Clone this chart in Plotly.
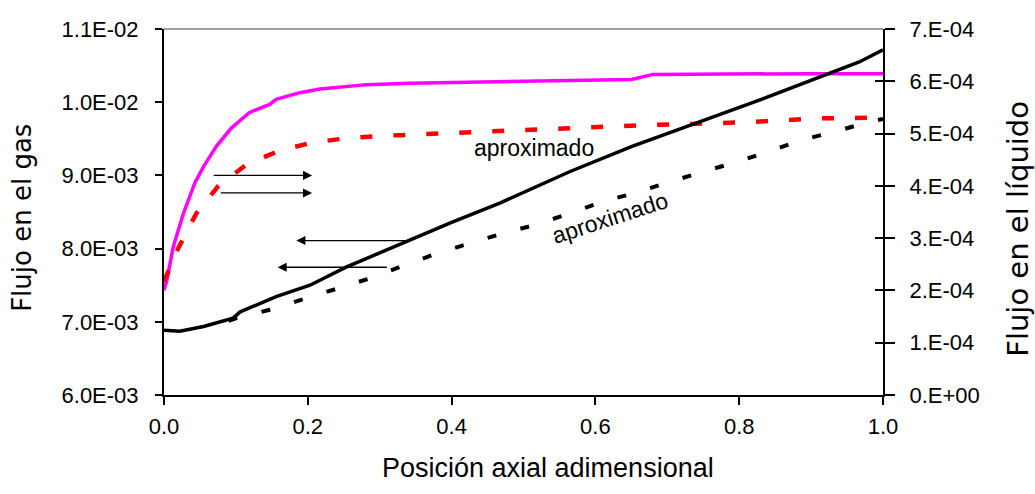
import plotly.graph_objects as go

# Gas-phase flow (left axis)
x_gas = [0.0, 0.004, 0.013, 0.027, 0.043, 0.055, 0.073, 0.094, 0.119, 0.147, 0.156,
         0.189, 0.217, 0.282, 0.342, 0.45, 0.55, 0.65, 0.68, 0.8, 0.9, 1.0]
gas_flow = [7.43e-3, 7.57e-3, 8.03e-3, 8.48e-3, 8.90e-3, 9.12e-3, 9.40e-3, 9.65e-3,
            9.86e-3, 9.97e-3, 10.04e-3, 10.13e-3, 10.18e-3, 10.24e-3, 10.26e-3,
            10.28e-3, 10.30e-3, 10.31e-3, 10.38e-3, 10.39e-3, 10.39e-3, 10.39e-3]

x_gas_approx = [0.0, 0.02, 0.045, 0.075, 0.115, 0.161, 0.207, 0.256, 0.302, 0.4,
                0.492, 0.585, 0.677, 0.726, 0.818, 0.913, 0.96, 1.0]
gas_flow_approx = [7.55e-3, 8.01e-3, 8.48e-3, 8.85e-3, 9.15e-3, 9.34e-3, 9.45e-3,
                   9.51e-3, 9.54e-3, 9.58e-3, 9.62e-3, 9.65e-3, 9.69e-3, 9.70e-3,
                   9.73e-3, 9.78e-3, 9.78e-3, 9.79e-3]

# Liquid-phase flow (right axis)
x_liq = [0.0, 0.022, 0.055, 0.096, 0.106, 0.156, 0.203, 0.254, 0.309, 0.4, 0.467,
         0.564, 0.65, 0.707, 0.828, 0.967, 1.0]
liq_flow = [1.24e-4, 1.22e-4, 1.31e-4, 1.47e-4, 1.59e-4, 1.88e-4, 2.10e-4, 2.45e-4,
            2.77e-4, 3.30e-4, 3.67e-4, 4.27e-4, 4.75e-4, 5.03e-4, 5.64e-4, 6.37e-4,
            6.60e-4]

x_liq_approx = [0.09, 0.101, 0.147, 0.193, 0.24, 0.286, 0.328, 0.374, 0.42, 0.471,
                0.515, 0.564, 0.61, 0.654, 0.7, 0.749, 0.798, 0.842, 0.888, 0.937,
                0.982, 1.0]
liq_flow_approx = [1.42e-4, 1.47e-4, 1.63e-4, 1.83e-4, 2.03e-4, 2.23e-4, 2.45e-4,
                   2.68e-4, 2.88e-4, 3.09e-4, 3.25e-4, 3.47e-4, 3.70e-4, 3.86e-4,
                   4.06e-4, 4.27e-4, 4.46e-4, 4.67e-4, 4.88e-4, 5.05e-4, 5.23e-4,
                   5.28e-4]

# Tick labels
x_ticks = [0.0, 0.2, 0.4, 0.6, 0.8, 1.0]
x_tick_text = ["0.0", "0.2", "0.4", "0.6", "0.8", "1.0"]
gas_ticks = [6.0e-3, 7.0e-3, 8.0e-3, 9.0e-3, 1.0e-2, 1.1e-2]
gas_tick_text = ["6.0E-03", "7.0E-03", "8.0E-03", "9.0E-03", "1.0E-02", "1.1E-02"]
liq_ticks = [0, 1e-4, 2e-4, 3e-4, 4e-4, 5e-4, 6e-4, 7e-4]
liq_tick_text = ["0.E+00", "1.E-04", "2.E-04", "3.E-04", "4.E-04", "5.E-04", "6.E-04", "7.E-04"]

# Arrows (tail x, head x, y on gas axis)
arrows = [
    (0.067, 0.206, 9.00e-3),
    (0.077, 0.206, 8.76e-3),
    (0.342, 0.184, 8.11e-3),
    (0.312, 0.158, 7.745e-3),
]

FONT = "Liberation Sans, Arial, sans-serif"
WIDE = "DejaVu Sans, Liberation Sans, sans-serif"

fig = go.Figure()
fig.add_trace(go.Scatter(x=x_gas, y=gas_flow, mode="lines",
                         line=dict(color="#FF00FF", width=3.5), yaxis="y"))
fig.add_trace(go.Scatter(x=x_gas_approx, y=gas_flow_approx, mode="lines",
                         line=dict(color="#FF0000", width=4.5, dash="12px,21px"), yaxis="y"))
fig.add_trace(go.Scatter(x=x_liq, y=liq_flow, mode="lines",
                         line=dict(color="#000000", width=3.5), yaxis="y2"))
fig.add_trace(go.Scatter(x=x_liq_approx, y=liq_flow_approx, mode="lines",
                         line=dict(color="#000000", width=4, dash="9px,25px"), yaxis="y2"))

for tail, head, yv in arrows:
    fig.add_annotation(x=head, y=yv, ax=tail, ay=yv, xref="x", yref="y",
                       axref="x", ayref="y", showarrow=True, arrowhead=2,
                       arrowsize=1.4, arrowwidth=1.3, arrowcolor="#000000", text="")

fig.add_annotation(x=0.515, y=9.38e-3, xref="x", yref="y", text="aproximado",
                   showarrow=False, font=dict(family=FONT, size=23, color="#000000"))
fig.add_annotation(x=0.62, y=3.38e-4, xref="x", yref="y2", text="aproximado",
                   showarrow=False, textangle=-18,
                   font=dict(family=FONT, size=23, color="#000000"))

# axis titles
fig.add_annotation(x=0.534, y=-0.20, xref="paper", yref="paper", yanchor="middle",
                   text="Posición axial adimensional", showarrow=False,
                   font=dict(family=FONT, size=27, color="#000000"))
fig.add_annotation(x=-0.1975, y=0.484, xref="paper", yref="paper", textangle=-90,
                   xanchor="center", yanchor="middle", text="Flujo en el gas",
                   showarrow=False, font=dict(family=WIDE, size=26, color="#000000"))
fig.add_annotation(x=1.1877, y=0.454, xref="paper", yref="paper", textangle=-90,
                   xanchor="center", yanchor="middle", text="Flujo en el líquido",
                   showarrow=False, font=dict(family=WIDE, size=29, color="#000000"))

# gray top border of plot area
fig.add_shape(type="line", xref="paper", yref="paper", x0=0, x1=1, y0=1, y1=1,
              line=dict(color="#808080", width=1.5))

fig.update_layout(
    width=1035, height=494,
    margin=dict(l=164, r=152, t=29, b=99),
    paper_bgcolor="white", plot_bgcolor="white",
    showlegend=False,
    font=dict(family=FONT, color="#000000"),
    xaxis=dict(range=[0, 1], tickvals=x_ticks, ticktext=x_tick_text,
               showgrid=False, zeroline=False, showline=True, linecolor="#000000",
               linewidth=2, ticks="outside", ticklen=8, tickwidth=1.5, tickcolor="#000000",
               tickfont=dict(size=22, family=FONT), ticklabelstandoff=3),
    yaxis=dict(range=[6.0e-3, 1.1e-2], tickvals=gas_ticks, ticktext=gas_tick_text,
               showgrid=False, zeroline=False, showline=True, linecolor="#000000",
               linewidth=2, ticks="outside", ticklen=7, tickwidth=1.5, tickcolor="#000000",
               tickfont=dict(size=22, family=FONT), ticklabelstandoff=12),
    yaxis2=dict(range=[0, 7e-4], tickvals=liq_ticks, ticktext=liq_tick_text,
                overlaying="y", side="right", anchor="x",
                showgrid=False, zeroline=False, showline=True, linecolor="#000000",
                linewidth=2, ticks="outside", ticklen=10, tickwidth=1.5, tickcolor="#000000",
                tickfont=dict(size=22, family=FONT), ticklabelstandoff=10),
    yaxis3=dict(range=[0, 7e-4], tickvals=liq_ticks, overlaying="y", side="right",
                anchor="x", showgrid=False, zeroline=False, showline=False,
                ticks="inside", ticklen=8, tickwidth=1.5, tickcolor="#000000",
                showticklabels=False),
)
# empty trace to attach the inner tick axis
fig.add_trace(go.Scatter(x=[], y=[], yaxis="y3", showlegend=False))

fig.write_html("out.html")
